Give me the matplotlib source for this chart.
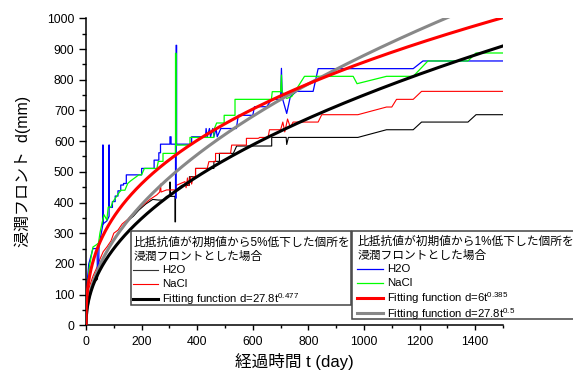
import numpy as np
import matplotlib
matplotlib.use("Agg")
import matplotlib.pyplot as plt
from matplotlib.patches import Rectangle
from matplotlib.ticker import MultipleLocator

plt.rcParams['font.family'] = ['Liberation Sans', 'Noto Sans CJK JP']
plt.rcParams['mathtext.default'] = 'regular'

# ---- data ----
# 1% criterion, H2O (blue)
h2o_1_t = [0, 10, 25, 40, 41, 45, 47, 55, 61, 61, 61, 75, 83, 83, 83, 95, 95, 105, 105, 115, 115, 125, 125,
           135, 135, 145, 145, 200, 200, 245, 245, 262, 262, 268, 268, 302, 302, 306, 306, 322, 322, 324,
           324, 326, 326, 380, 380, 430, 432, 436, 444, 448, 456, 460, 468, 472, 485, 541, 545, 548, 600,
           606, 650, 668, 700, 703, 706, 722, 735, 758, 817, 835, 1177, 1212, 1500]
h2o_1_d = [100, 200, 250, 250, 165, 185, 260, 300, 330, 587, 330, 340, 355, 587, 384, 384, 403, 403, 421,
           421, 438, 438, 457, 457, 462, 462, 490, 490, 511, 511, 538, 538, 562, 562, 590, 590, 614, 614,
           590, 590, 414, 414, 912, 912, 590, 590, 614, 614, 641, 614, 641, 614, 641, 614, 641, 614, 641,
           641, 667, 684, 684, 712, 712, 736, 736, 837, 741, 690, 745, 762, 762, 836, 836, 861, 861]

# 1% criterion, NaCl (green)
nacl_1_t = [0, 5, 12, 25, 37, 45, 50, 58, 65, 75, 80, 90, 95, 110, 125, 140, 150, 160, 175, 190, 200, 210,
            255, 260, 277, 277, 322, 322, 324, 324, 374, 374, 460, 460, 470, 497, 497, 536, 536, 667, 670,
            700, 703, 705, 722, 740, 786, 961, 975, 1081, 1177, 1230, 1374, 1403, 1500]
nacl_1_d = [100, 115, 190, 255, 262, 268, 300, 335, 360, 343, 385, 385, 400, 420, 440, 440, 462, 470, 480,
            490, 490, 511, 511, 534, 534, 560, 560, 886, 886, 587, 587, 612, 612, 637, 659, 659, 684, 684,
            736, 736, 761, 761, 815, 761, 739, 745, 811, 811, 787, 811, 811, 861, 861, 887, 887]

# 5% criterion, NaCl (red thin)
nacl_5_t = [0, 10, 25, 40, 50, 62, 75, 90, 100, 115, 130, 150, 165, 190, 210, 230, 255, 265, 268, 270, 290,
            322, 325, 356, 360, 365, 370, 375, 380, 385, 394, 394, 436, 442, 466, 466, 520, 524, 577, 577,
            620, 625, 655, 660, 700, 708, 715, 725, 735, 745, 835, 848, 978, 1081, 1100, 1117, 1177, 1207,
            1500]
nacl_5_d = [60, 120, 160, 190, 215, 240, 255, 275, 300, 310, 330, 345, 360, 380, 395, 410, 425, 434, 460,
            434, 441, 441, 456, 468, 448, 480, 455, 484, 460, 484, 484, 511, 511, 533, 533, 560, 560, 587,
            587, 609, 609, 612, 612, 637, 637, 662, 630, 672, 645, 662, 662, 686, 686, 711, 711, 736, 736,
            762, 762]

# 5% criterion, H2O (black thin)
h2o_5_t = [0, 15, 30, 41, 45, 55, 70, 85, 100, 115, 135, 150, 170, 190, 215, 240, 260, 277, 290, 302, 302,
           304, 320, 320, 322, 322, 345, 372, 372, 394, 394, 460, 460, 480, 480, 530, 542, 668, 668, 720,
           722, 728, 978, 1081, 1177, 1207, 1374, 1403, 1500]
h2o_5_d = [50, 110, 140, 150, 185, 210, 235, 255, 280, 300, 320, 340, 355, 375, 395, 410, 408, 408, 420,
           420, 467, 420, 420, 337, 337, 440, 456, 456, 484, 484, 511, 511, 534, 534, 560, 560, 584, 584,
           612, 612, 589, 612, 612, 637, 637, 662, 662, 686, 686]

# fitting functions d = a * t^b
fit_black = (27.8, 0.477)
fit_red = (60.0, 0.385)
fit_gray = (27.8, 0.5)

# ---- figure ----
fig = plt.figure(figsize=(5.73, 3.74), dpi=100)
ax = fig.add_axes([86/573, 1-325.3/374, (503-86)/573, (325.3-18.3)/374])

ax.plot(h2o_5_t, h2o_5_d, color='black', lw=0.8, zorder=2)
ax.plot(nacl_5_t, nacl_5_d, color='red', lw=0.8, zorder=2)
ax.plot(h2o_1_t, h2o_1_d, color='#0000ff', lw=0.9, zorder=2)
ax.plot(nacl_1_t, nacl_1_d, color='#00ff00', lw=0.9, zorder=2)

tt = np.linspace(0, 1500, 1501)
ax.plot(tt, fit_gray[0]*tt**fit_gray[1], color='#888888', lw=2.2, zorder=3)
ax.plot(tt, fit_black[0]*tt**fit_black[1], color='black', lw=2.2, zorder=3)
ax.plot(tt, fit_red[0]*tt**fit_red[1], color='red', lw=2.2, zorder=4)

ax.set_xlim(0, 1500)
ax.set_ylim(0, 1000)
ax.xaxis.set_major_locator(MultipleLocator(200))
ax.xaxis.set_minor_locator(MultipleLocator(100))
ax.yaxis.set_major_locator(MultipleLocator(100))
ax.yaxis.set_minor_locator(MultipleLocator(50))
for s in ['top', 'right']:
    ax.spines[s].set_visible(False)
for s in ['left', 'bottom']:
    ax.spines[s].set_linewidth(1.1)
ax.tick_params(axis='y', which='major', direction='out', length=4.8, width=1.0, labelsize=8.8, pad=3.5)
ax.tick_params(axis='y', which='minor', direction='out', length=2.8, width=1.0)
ax.tick_params(axis='x', which='major', direction='out', length=3.5, width=1.0, labelsize=8.8, pad=4)
ax.tick_params(axis='x', which='minor', direction='out', length=2.5, width=1.0)
ax.set_xlabel('経過時間 t (day)', fontsize=12)
ax.xaxis.set_label_coords(0.5, -0.09)
ax.set_ylabel('浸潤フロント  d(mm)', fontsize=11.5)
ax.yaxis.set_label_coords(-0.132, 0.5)

# ---- legends drawn in pixel coordinates ----
ov = fig.add_axes([0, 0, 1, 1], zorder=10)
ov.set_xlim(0, 573)
ov.set_ylim(374, 0)
ov.axis('off')

fs_t = 8.45
fs = 8.2
# legend 1
ov.add_patch(Rectangle((130.7, 230.7), 220, 74.3, facecolor='white', edgecolor='#444444', lw=1.1))
ov.text(134, 243.3, '比抵抗値が初期値から5%低下した個所を', fontsize=fs_t, va='center', ha='left')
ov.text(134, 256.7, '浸潤フロントとした場合', fontsize=fs_t, va='center', ha='left')
ov.plot([133.3, 158.3], [270, 270], color='#333333', lw=0.8)
ov.text(161.7, 270, 'H2O', fontsize=fs, va='center')
ov.plot([133.3, 158.3], [284, 284], color='red', lw=0.8)
ov.text(161.7, 284, 'NaCl', fontsize=fs, va='center')
ov.plot([133.3, 158.3], [298.7, 298.7], color='black', lw=2.2)
ov.text(161.7, 299.2, 'Fitting function d=27.8t$^{0.477}$', fontsize=fs, va='center')

# legend 2
ov.add_patch(Rectangle((351.7, 230.7), 240, 88.6, facecolor='white', edgecolor='#444444', lw=1.1,
                       clip_on=False))
ov.text(357.5, 242.3, '比抵抗値が初期値から1%低下した個所を', fontsize=fs_t, va='center', ha='left')
ov.text(357.5, 255.7, '浸潤フロントとした場合', fontsize=fs_t, va='center', ha='left')
ov.plot([357.3, 382.7], [269, 269], color='#0000ff', lw=0.9)
ov.text(386.7, 269, 'H2O', fontsize=fs, va='center')
ov.plot([357.3, 382.7], [283.3, 283.3], color='#00ff00', lw=0.9)
ov.text(386.7, 283.3, 'NaCl', fontsize=fs, va='center')
ov.plot([357.3, 382.7], [297.7, 297.7], color='red', lw=2.2)
ov.text(386.7, 297.7, 'Fitting function d=6t$^{0.385}$', fontsize=fs, va='center')
ov.plot([357.3, 382.7], [313.3, 313.3], color='#888888', lw=2.2)
ov.text(386.7, 313.8, 'Fitting function d=27.8t$^{0.5}$', fontsize=fs, va='center')

fig.savefig('out.png', dpi=100)
